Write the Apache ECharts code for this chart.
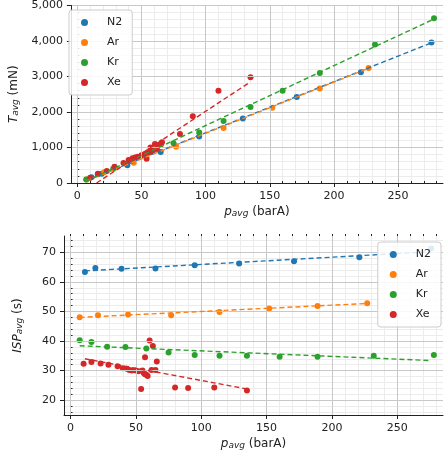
<!DOCTYPE html>
<html><head><meta charset="utf-8">
<script src="https://cdn.jsdelivr.net/npm/echarts@6/dist/echarts.min.js"></script>
<style>html,body{margin:0;padding:0;background:#fff}#c{width:447px;height:455px}</style>
</head><body><div id="c"></div>
<script>
const gases = ['N2', 'Ar', 'Kr', 'Xe'];
const colors = ['#1f77b4', '#ff7f0e', '#2ca02c', '#d62728'];

const pN2 = [11, 19, 39, 65, 95, 129, 171, 221, 276];
const tN2 = [160, 260, 500, 870, 1310, 1820, 2420, 3120, 3960];
const iN2 = [63.3, 64.7, 64.4, 64.5, 65.6, 66.2, 67.0, 68.3, 71.3];

const pAr = [7, 21, 44, 77, 114, 152, 189, 227];
const tAr = [100, 300, 570, 1020, 1550, 2120, 2660, 3240];
const iAr = [48.0, 48.7, 49.0, 48.7, 49.8, 51.0, 51.8, 52.8];

const pKr = [7, 16, 28, 42, 58, 75, 95, 114, 135, 160, 189, 232, 278];
const tKr = [100, 250, 400, 620, 880, 1120, 1420, 1750, 2140, 2600, 3100, 3900, 4640];
const iKr = [40.3, 39.7, 38.1, 38.0, 37.5, 36.1, 35.3, 35.0, 35.0, 34.7, 34.7, 35.0, 35.3];

const pXe = [10, 16, 23, 29, 36, 40, 43, 45, 47, 50, 52, 55, 56, 57, 58, 59, 62, 65, 66, 57, 60.5, 63, 54, 80, 90, 110, 135];
const tXe = [150, 260, 340, 460, 560, 650, 700, 720, 740, 780, 800, 850, 870, 880, 900, 920, 960, 1080, 1150, 1000, 1100, 1050, 680, 1380, 1880, 2600, 2980];
const iXe = [32.3, 32.9, 32.4, 32.0, 31.5, 30.8, 30.6, 30.2, 30.0, 30.0, 29.8, 30.0, 29.2, 28.8, 28.6, 28.2, 30.2, 30.2, 33.1, 34.5, 40.2, 38.3, 23.8, 24.3, 24.1, 24.3, 23.3];

// fitted trend lines (end points)
const fitT = [[[11, 130], [276, 3950]], [[7, 60], [227, 3230]], [[7, 50], [278, 4620]], [[15, 0], [135, 2850]]];
const fitI = [[[11, 63.7], [276, 70.2]], [[7, 48.0], [227, 52.7]], [[7, 38.4], [276, 33.4]], [[11, 34.0], [135, 23.8]]];

// tick positions
const xMajor = [0, 50, 100, 150, 200, 250];
const xMinor = [];
for (let v = 0; v <= 280; v += 10) xMinor.push(v);
const tMajor = [0, 1000, 2000, 3000, 4000, 5000];
const tMinor = [];
for (let v = 0; v <= 5000; v += 200) tMinor.push(v);
const iMajor = [20, 30, 40, 50, 60, 70];
const iMinor = [];
for (let v = 16; v <= 74; v += 2) iMinor.push(v);

const P = [pN2, pAr, pKr, pXe];
const T = [tN2, tAr, tKr, tXe];
const I = [iN2, iAr, iKr, iXe];

const txt = '#222';
const font = 'DejaVu Sans';
const rich = { s: { fontSize: 9, fontStyle: 'italic', verticalAlign: 'bottom', padding: [4, 0, 0, 0], fontFamily: font, color: txt },
  i: { fontSize: 12, fontStyle: 'italic', fontFamily: font, color: txt },
  n: { fontSize: 12, fontFamily: font, color: txt } };

function axisMain(base, major, extra){
  return Object.assign({
    type: 'value', nameTextStyle: { rich },
    axisLine: { show: true, onZero: false, lineStyle: { color: '#222' } },
    axisTick: { show: true, customValues: major, lineStyle: { color: '#222' }, length: 4 },
    axisLabel: { customValues: major, color: txt, fontFamily: font, fontSize: 11 },
    splitLine: { show: true, lineStyle: { color: '#c8c8c8' } },
    z: 3
  }, base, extra);
}
function axisMinor(base, minor){
  return Object.assign({
    type: 'value',
    axisLine: { show: false },
    axisTick: { show: true, inside: false, customValues: minor, length: 2, lineStyle: { color: '#222' } },
    axisLabel: { show: false },
    splitLine: { show: true, lineStyle: { color: '#ececec' } },
    z: 1
  }, base);
}

const xb0 = { gridIndex: 0, min: -5, max: 285 };
const xb1 = { gridIndex: 1, min: -5, max: 285 };
const yb0 = { gridIndex: 0, min: 0, max: 5000 };
const yb1 = { gridIndex: 1, min: 15, max: 75.5 };
const xName = { name: '{i|p}{s|avg}{n| (barA)}', nameLocation: 'middle', nameGap: 22 };

const series = [];
gases.forEach((g, k) => {
  series.push({ name: g, type: 'scatter', xAxisIndex: 0, yAxisIndex: 0, symbolSize: 6,
    itemStyle: { color: colors[k], opacity: 1 }, data: P[k].map((p, j) => [p, T[k][j]]) });
  series.push({ name: g, type: 'scatter', xAxisIndex: 1, yAxisIndex: 1, symbolSize: 6,
    itemStyle: { color: colors[k], opacity: 1 }, data: P[k].map((p, j) => [p, I[k][j]]) });
  series.push({ type: 'line', xAxisIndex: 0, yAxisIndex: 0, symbol: 'none', silent: true,
    lineStyle: { color: colors[k], type: [5, 3], width: 1.4 }, data: fitT[k] });
  series.push({ type: 'line', xAxisIndex: 1, yAxisIndex: 1, symbol: 'none', silent: true,
    lineStyle: { color: colors[k], type: [5, 3], width: 1.4 }, data: fitI[k] });
});

const legendBase = {
  data: gases.map(g => ({ name: g, icon: 'circle' })), orient: 'vertical',
  itemWidth: 7, itemHeight: 7, itemGap: 9, padding: [7, 10, 7, 12],
  backgroundColor: 'rgba(255,255,255,0.85)', borderColor: '#ccc', borderWidth: 1, borderRadius: 3,
  textStyle: { fontFamily: font, fontSize: 11, color: txt, padding: [0, 0, 0, 14] }
};

const chart = echarts.init(document.getElementById('c'));
chart.setOption({
  animation: false,
  backgroundColor: '#fff',
  grid: [
    { left: 64, top: 5, width: 379, height: 178 },
    { left: 64, top: 236, width: 379, height: 179 }
  ],
  xAxis: [
    axisMain(xb0, xMajor, xName), axisMain(xb1, xMajor, xName),
    axisMinor(xb0, xMinor), axisMinor(xb1, xMinor)
  ],
  yAxis: [
    axisMain(yb0, tMajor, { name: '{i|T}{s|avg}{n| (mN)}', nameLocation: 'middle', nameGap: 40, nameRotate: 90 }),
    axisMain(yb1, iMajor, { name: '{i|ISP}{s|avg}{n| (s)}', nameLocation: 'middle', nameGap: 40, nameRotate: 90 }),
    axisMinor(yb0, tMinor), axisMinor(yb1, iMinor)
  ],
  legend: [
    Object.assign({ left: 69, top: 10 }, legendBase),
    Object.assign({ right: 6, top: 242 }, legendBase)
  ],
  series
});
</script></body></html>
